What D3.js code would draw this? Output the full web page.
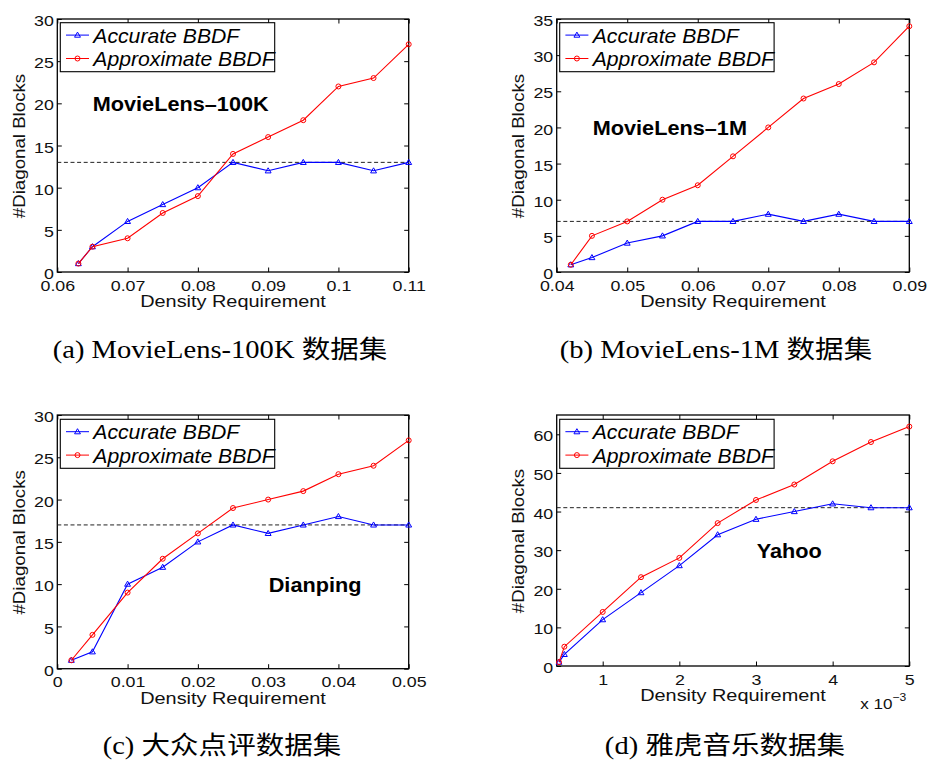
<!DOCTYPE html>
<html><head><meta charset="utf-8">
<script src="https://cdn.jsdelivr.net/npm/d3@7"></script>
<style>body{margin:0;background:#fff} svg{display:block}</style>
</head><body><svg id="c" width="927" height="760"></svg>
<script>
// ---------- data ----------
const seriesNames = ["Accurate BBDF", "Approximate BBDF"];
const xAxisTitle = "Density Requirement";
const yAxisTitle = "#Diagonal Blocks";

// (a) MovieLens-100K
const densityML100K = [0.063,0.065,0.07,0.075,0.08,0.085,0.09,0.095,0.1,0.105,0.11];
const accurateML100K = [1,3,6,8,10,13,12,13,13,12,13];
const approxML100K = [1,3,4,7,9,14,16,18,22,23,27];
const refML100K = 13;
const xDomainML100K = [0.06,0.11];
const yDomainML100K = [0,30];
const xTicksML100K = [0.06,0.07,0.08,0.09,0.1,0.11];
const xTickLabelsML100K = ["0.06","0.07","0.08","0.09","0.1","0.11"];
const yTicksML100K = [0,5,10,15,20,25,30];

// (b) MovieLens-1M
const densityML1M = [0.042,0.045,0.05,0.055,0.06,0.065,0.07,0.075,0.08,0.085,0.09];
const accurateML1M = [1,2,4,5,7,7,8,7,8,7,7];
const approxML1M = [1,5,7,10,12,16,20,24,26,29,34];
const refML1M = 7;
const xDomainML1M = [0.04,0.09];
const yDomainML1M = [0,35];
const xTicksML1M = [0.04,0.05,0.06,0.07,0.08,0.09];
const xTickLabelsML1M = ["0.04","0.05","0.06","0.07","0.08","0.09"];
const yTicksML1M = [0,5,10,15,20,25,30,35];

// (c) Dianping
const densityDianping = [0.002,0.005,0.01,0.015,0.02,0.025,0.03,0.035,0.04,0.045,0.05];
const accurateDianping = [1,2,10,12,15,17,16,17,18,17,17];
const approxDianping = [1,4,9,13,16,19,20,21,23,24,27];
const refDianping = 17;
const xDomainDianping = [0,0.05];
const yDomainDianping = [0,30];
const xTicksDianping = [0,0.01,0.02,0.03,0.04,0.05];
const xTickLabelsDianping = ["0","0.01","0.02","0.03","0.04","0.05"];
const yTicksDianping = [0,5,10,15,20,25,30];

// (d) Yahoo (x in units of 10^-3)
const densityYahoo = [0.43,0.5,1,1.5,2,2.5,3,3.5,4,4.5,5];
const accurateYahoo = [1,3,12,19,26,34,38,40,42,41,41];
const approxYahoo = [1,5,14,23,28,37,43,47,53,58,62];
const refYahoo = 41;
const xDomainYahoo = [0.4,5];
const yDomainYahoo = [0,65];
const xTicksYahoo = [1,2,3,4,5];
const xTickLabelsYahoo = ["1","2","3","4","5"];
const yTicksYahoo = [0,10,20,30,40,50,60];

const annotations = ["MovieLens\u2013100K","MovieLens\u20131M","Dianping","Yahoo"];
const captions = ["(a) MovieLens-100K 数据集","(b) MovieLens-1M 数据集","(c) 大众点评数据集","(d) 雅虎音乐数据集"];

const datasets = [
  {x:densityML100K, acc:accurateML100K, app:approxML100K, ref:refML100K, xDomain:xDomainML100K, yDomain:yDomainML100K, xTicks:xTicksML100K, xLabels:xTickLabelsML100K, yTicks:yTicksML100K},
  {x:densityML1M, acc:accurateML1M, app:approxML1M, ref:refML1M, xDomain:xDomainML1M, yDomain:yDomainML1M, xTicks:xTicksML1M, xLabels:xTickLabelsML1M, yTicks:yTicksML1M},
  {x:densityDianping, acc:accurateDianping, app:approxDianping, ref:refDianping, xDomain:xDomainDianping, yDomain:yDomainDianping, xTicks:xTicksDianping, xLabels:xTickLabelsDianping, yTicks:yTicksDianping},
  {x:densityYahoo, acc:accurateYahoo, app:approxYahoo, ref:refYahoo, xDomain:xDomainYahoo, yDomain:yDomainYahoo, xTicks:xTicksYahoo, xLabels:xTickLabelsYahoo, yTicks:yTicksYahoo, exponent:true}
];

// ---------- layout ----------
const layout = [
  {left:57.3, right:408.7, top:19, bottom:272, legTop:22.7, annX:92.7, annY:111, capX:220, capY:358},
  {left:556.7, right:909.3, top:19, bottom:272, legTop:22.7, annX:592.7, annY:135, capX:716, capY:358},
  {left:57.3, right:408.7, top:415, bottom:668.7, legTop:419.3, annX:268.7, annY:592.3, capX:222, capY:754},
  {left:556.7, right:909.3, top:415, bottom:666, legTop:419.3, annX:756.7, annY:558, capX:725, capY:754}
];

const SANS = "'Liberation Sans', Arial, Helvetica, sans-serif";
const BLUE = "#0000ff", RED = "#ff0000";
const svg = d3.select("#c");

const triangle = d3.symbol().type(d3.symbolTriangle).size(15);

function drawMarkers(g, pts, kind, color) {
  if (kind === "tri") {
    g.selectAll(null).data(pts).enter().append("path")
      .attr("d", triangle)
      .attr("transform", d => `translate(${d[0]},${d[1]+0.4})`)
      .attr("fill", "none").attr("stroke", color).attr("stroke-width", 1);
  } else {
    g.selectAll(null).data(pts).enter().append("circle")
      .attr("cx", d => d[0]).attr("cy", d => d[1]).attr("r", 2.5)
      .attr("fill", "none").attr("stroke", color).attr("stroke-width", 1);
  }
}

function drawPanel(p, d, i) {
  const x = d3.scaleLinear().domain(d.xDomain).range([p.left, p.right]);
  const y = d3.scaleLinear().domain(d.yDomain).range([p.bottom, p.top]);
  const g = svg.append("g");

  // axes (inward ticks, mirrored)
  const gx = g.append("g").attr("transform", `translate(0,${p.bottom})`)
    .call(d3.axisBottom(x).tickValues(d.xTicks).tickFormat((v, k) => d.xLabels[k]).tickSizeInner(-4.5).tickSizeOuter(0));
  const gy = g.append("g").attr("transform", `translate(${p.left},0)`)
    .call(d3.axisLeft(y).tickValues(d.yTicks).tickFormat(d3.format("d")).tickSizeInner(-4.5).tickSizeOuter(0));
  const gt = g.append("g").attr("transform", `translate(0,${p.top})`)
    .call(d3.axisTop(x).tickValues(d.xTicks).tickFormat("").tickSizeInner(-4.5).tickSizeOuter(0));
  const gr = g.append("g").attr("transform", `translate(${p.right},0)`)
    .call(d3.axisRight(y).tickValues(d.yTicks).tickFormat("").tickSizeInner(-4.5).tickSizeOuter(0));
  [gx, gy, gt, gr].forEach(a => {
    a.select(".domain").remove();
    a.selectAll(".tick line").attr("stroke", "#000").attr("stroke-width", 1);
    a.selectAll("text").attr("fill", "#111").style("font-family", SANS).style("font-size", "15.5px");
  });
  gx.selectAll(".tick text").attr("x", null).attr("y", null).attr("dy", null)
    .attr("text-anchor", "middle").attr("transform", "translate(0,18.6) scale(1.15,1)");
  gy.selectAll(".tick text").attr("x", null).attr("y", null).attr("dy", null)
    .attr("text-anchor", "end").attr("transform", "translate(-3.5,6.6) scale(1.15,1)");
  gt.selectAll(".tick text").remove();
  gr.selectAll(".tick text").remove();

  // frame
  g.append("rect").attr("x", p.left).attr("y", p.top)
    .attr("width", p.right - p.left).attr("height", p.bottom - p.top)
    .attr("fill", "none").attr("stroke", "#000").attr("stroke-width", 1.3);

  // reference dashed line
  g.append("line").attr("x1", p.left).attr("x2", p.right)
    .attr("y1", y(d.ref)).attr("y2", y(d.ref))
    .attr("stroke", "#222").attr("stroke-width", 1).attr("stroke-dasharray", "4,2.6");

  // series
  const line = d3.line().x(v => v[0]).y(v => v[1]);
  const accPts = d.x.map((v, k) => [x(v), y(d.acc[k])]);
  const appPts = d.x.map((v, k) => [x(v), y(d.app[k])]);
  g.append("path").attr("d", line(accPts)).attr("fill", "none").attr("stroke", BLUE).attr("stroke-width", 1.1);
  drawMarkers(g, accPts, "tri", BLUE);
  g.append("path").attr("d", line(appPts)).attr("fill", "none").attr("stroke", RED).attr("stroke-width", 1.1);
  drawMarkers(g, appPts, "circ", RED);

  // axis titles
  g.append("text").text(xAxisTitle)
    .attr("transform", `translate(${(p.left + p.right) / 2},${p.bottom + 34.8}) scale(1.17,1)`)
    .attr("text-anchor", "middle").style("font-family", SANS).style("font-size", "17px").attr("fill", "#111");
  g.append("text").text(yAxisTitle)
    .attr("transform", `translate(${p.left - 32.5},${(p.top + p.bottom) / 2 + 0.5}) rotate(-90) scale(1.1,1)`)
    .attr("text-anchor", "middle").style("font-family", SANS).style("font-size", "17px").attr("fill", "#111");

  if (d.exponent) {
    const t = g.append("text")
      .attr("transform", `translate(${p.right - 49},${p.bottom + 42.5}) scale(1.1,1)`)
      .style("font-family", SANS).style("font-size", "15.5px").attr("fill", "#111");
    t.append("tspan").text("x 10");
    t.append("tspan").text("\u22123").attr("dy", -7.5).style("font-size", "11px");
  }

  // annotation
  g.append("text").text(annotations[i])
    .attr("transform", `translate(${p.annX},${p.annY}) scale(1.085,1)`)
    .style("font-family", SANS).style("font-size", "20px").style("font-weight", "bold").attr("fill", "#000");

  // legend
  const lx = p.left + 3, ly = p.legTop;
  const leg = g.append("g");
  leg.append("rect").attr("x", lx).attr("y", ly).attr("width", 214.4).attr("height", 49)
    .attr("fill", "#fff").attr("stroke", "#000").attr("stroke-width", 1.1);
  seriesNames.forEach((name, k) => {
    const base = ly + 20 + k * 23.4;
    const ymid = base - 7.6;
    const color = k === 0 ? BLUE : RED;
    leg.append("line").attr("x1", lx + 5.7).attr("x2", lx + 28.7).attr("y1", ymid).attr("y2", ymid)
      .attr("stroke", color).attr("stroke-width", 1);
    drawMarkers(leg, [[lx + 17.2, ymid]], k === 0 ? "tri" : "circ", color);
    leg.append("text").text(name)
      .attr("transform", `translate(${lx + 33},${base}) scale(1.06,1)`)
      .style("font-family", SANS).style("font-size", "20px").style("font-style", "italic").attr("fill", "#000");
  });

  // caption
  svg.append("text").text(captions[i])
    .attr("transform", `translate(${p.capX},${p.capY}) scale(1.12,1)`)
    .attr("text-anchor", "middle")
    .style("font-family", "'Liberation Serif', 'Times New Roman', 'Noto Sans CJK SC', serif")
    .style("font-size", "25.5px").attr("fill", "#000");
}

layout.forEach((p, i) => drawPanel(p, datasets[i], i));
</script>
</body></html>
